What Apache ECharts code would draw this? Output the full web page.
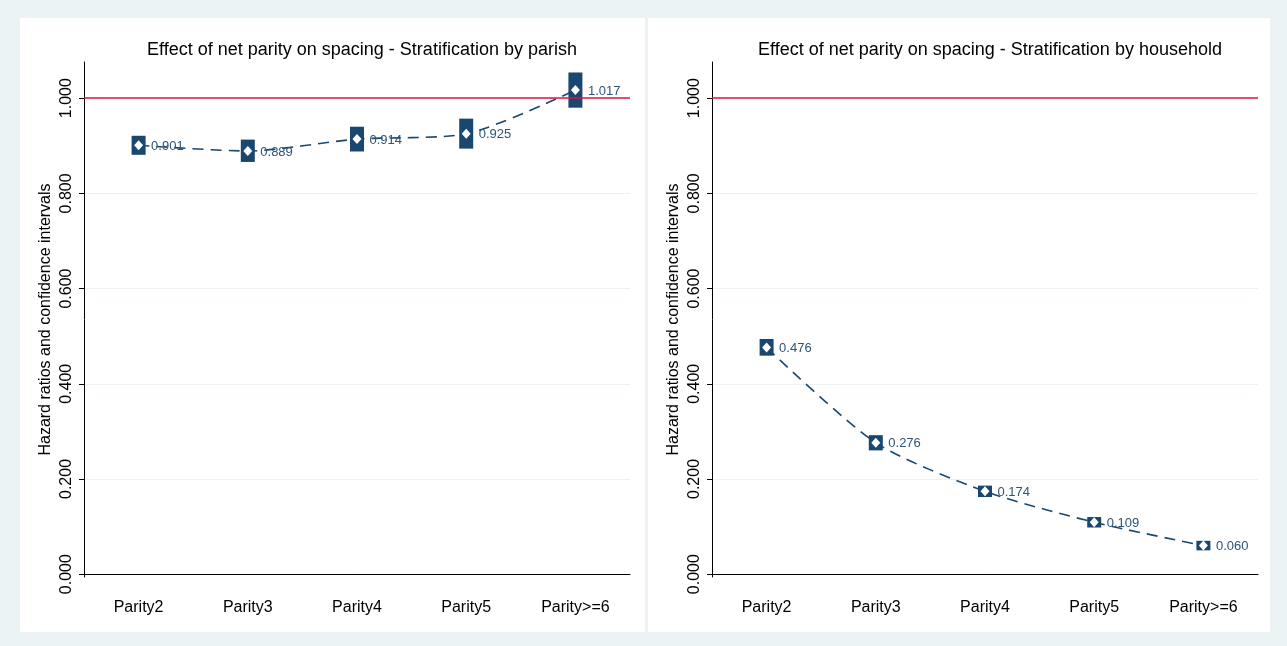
<!DOCTYPE html>
<html>
<head>
<meta charset="utf-8">
<script src="https://cdn.jsdelivr.net/npm/echarts@6/dist/echarts.min.js"></script>
<style>
    html, body { margin: 0; padding: 0; }
    body { width: 1287px; height: 646px; background: #eaf2f3; position: relative; overflow: hidden; }
    .panel { position: absolute; background: #ffffff; }
</style>
</head>
<body>
<div class="panel" id="left" style="left:20px; top:18px; width:625px; height:614px;"></div>
<div class="panel" id="right" style="left:648px; top:18px; width:622px; height:614px;"></div>
<script>
// 数据
const categories = ['Parity2', 'Parity3', 'Parity4', 'Parity5', 'Parity>=6']
const yTicks = [0, 0.2, 0.4, 0.6, 0.8, 1.0]

const parishHR = [0.901, 0.889, 0.914, 0.925, 1.017]
const parishLow = [0.881, 0.866, 0.888, 0.894, 0.980]
const parishHigh = [0.921, 0.913, 0.940, 0.957, 1.054]

const householdHR = [0.476, 0.276, 0.174, 0.109, 0.060]
const householdLow = [0.459, 0.260, 0.162, 0.098, 0.050]
const householdHigh = [0.494, 0.292, 0.186, 0.120, 0.070]

const navy = '#1a476f'
const red = '#d8133d'
const font = 'Liberation Sans, Arial, sans-serif'

const drawPanel = (el, title, hr, low, high, titleX) => {
    var myChart = echarts.init(document.getElementById(el))
    myChart.setOption({
        animation: false,
        textStyle: { fontFamily: font },
        title: {
            text: title,
            left: titleX,
            top: 18,
            textAlign: 'center',
            textStyle: { fontSize: 18, fontWeight: 'normal', color: '#000', fontFamily: font }
        },
        grid: {
            left: 64,
            right: el === 'left' ? 15 : 12,
            top: 44,
            bottom: 55,
            containLabel: false
        },
        xAxis: {
            type: 'category',
            data: categories,
            boundaryGap: true,
            axisLine: { lineStyle: { color: '#000', width: 1 } },
            axisTick: { alignWithLabel: true, length: 5, lineStyle: { color: '#000' } },
            axisLabel: { color: '#000', fontSize: 16, margin: 23, fontFamily: font },
            splitLine: { show: false }
        },
        yAxis: {
            type: 'value',
            min: -0.006,
            max: 1.076,
            name: 'Hazard ratios and confidence intervals',
            nameLocation: 'middle',
            nameRotate: 90,
            nameGap: 30,
            nameMoveOverlap: false,
            nameTextStyle: { color: '#000', fontSize: 16, fontFamily: font },
            axisLine: { show: true, lineStyle: { color: '#000', width: 1 } },
            axisTick: { show: true, length: 5, customValues: yTicks, lineStyle: { color: '#000' } },
            axisLabel: {
                customValues: yTicks,
                rotate: 90,
                margin: 9,
                color: '#000',
                fontSize: 16,
                fontFamily: font,
                formatter: (v) => v.toFixed(3)
            },
            splitLine: { show: true, showMinLine: false, showMaxLine: false, lineStyle: { color: '#eaf2f3', width: 1 } }
        },
        series: [
            {
                name: 'ci',
                type: 'custom',
                z: 2,
                renderItem: function (params, api) {
                    var lo = api.coord([api.value(0), api.value(1)])
                    var hi = api.coord([api.value(0), api.value(2)])
                    return {
                        type: 'rect',
                        shape: { x: lo[0] - 7, y: hi[1], width: 14, height: lo[1] - hi[1] },
                        style: { fill: navy }
                    }
                },
                data: categories.map((c, i) => [i, low[i], high[i]])
            },
            {
                name: 'hr',
                type: 'line',
                z: 3,
                smooth: 0.25,
                data: hr,
                symbol: 'diamond',
                symbolSize: [9, 10],
                itemStyle: { color: '#fff', borderWidth: 0 },
                lineStyle: { color: navy, width: 1.6, type: [11, 7] },
                label: {
                    show: true,
                    position: 'right',
                    distance: 8,
                    offset: [0, 1],
                    color: '#2d5479',
                    fontSize: 13,
                    fontFamily: font,
                    formatter: (p) => p.value.toFixed(3)
                },
                markLine: {
                    silent: true,
                    symbol: 'none',
                    label: { show: false },
                    lineStyle: { color: red, width: 1.5, type: 'solid' },
                    data: [{ yAxis: 1 }]
                }
            }
        ]
    })
}

drawPanel('left', 'Effect of net parity on spacing - Stratification by parish', parishHR, parishLow, parishHigh, 337)
drawPanel('right', 'Effect of net parity on spacing - Stratification by household', householdHR, householdLow, householdHigh, 337)
</script>
</body>
</html>
